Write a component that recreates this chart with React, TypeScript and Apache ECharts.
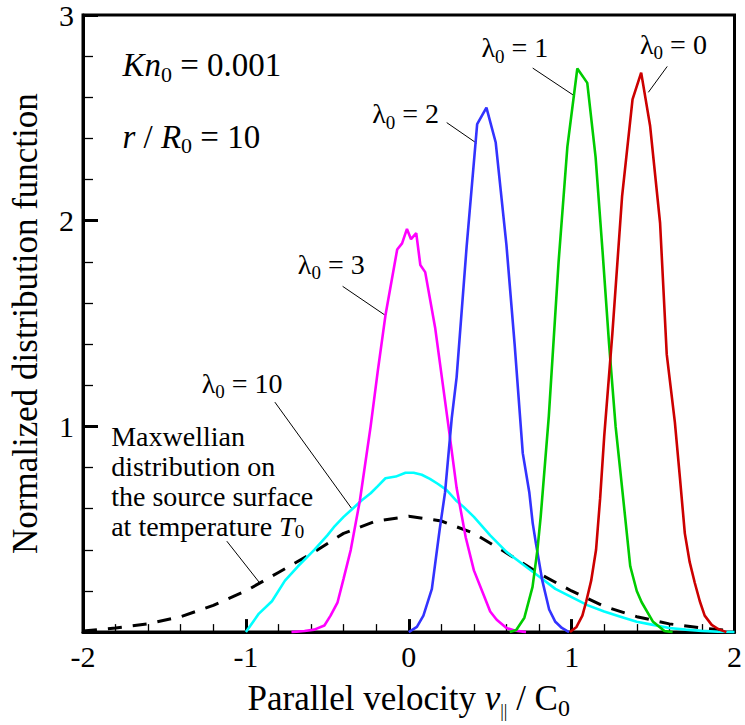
import React, { useEffect, useRef } from "react";
import * as echarts from "echarts";

const FONT = "Liberation Serif";

// axis ticks
const xTickValues = [-2, -1, 0, 1, 2];
const yTickLabels = ["", "1", "2", "3"];

// Normalized distribution function vs parallel velocity, per lambda_0
const lambda0 = [
  [0.99, 0], [1.03, 0.025], [1.066, 0.08], [1.09, 0.15], [1.12, 0.25], [1.15, 0.4],
  [1.175, 0.65], [1.2, 0.95], [1.25, 1.45], [1.31, 2.12], [1.374, 2.59], [1.427, 2.72],
  [1.482, 2.46], [1.543, 1.99], [1.584, 1.35], [1.634, 1.02], [1.665, 0.75], [1.695, 0.48],
  [1.725, 0.34], [1.756, 0.24], [1.787, 0.15], [1.817, 0.08], [1.86, 0.035], [1.9, 0.015], [1.95, 0],
];
const lambda1 = [
  [0.62, 0], [0.66, 0.01], [0.71, 0.07], [0.76, 0.22], [0.79, 0.4], [0.81, 0.56],
  [0.86, 1.05], [0.92, 1.8], [0.974, 2.36], [1.035, 2.74], [1.096, 2.67], [1.147, 2.31],
  [1.19, 1.85], [1.23, 1.4], [1.27, 1.0], [1.31, 0.7], [1.36, 0.32], [1.4, 0.2],
  [1.43, 0.145], [1.5, 0.05], [1.57, 0.005], [1.62, 0],
];
const lambda2 = [
  [0.0, 0], [0.05, 0.025], [0.09, 0.08], [0.142, 0.21], [0.19, 0.5], [0.223, 0.68],
  [0.264, 1.04], [0.294, 1.24], [0.355, 1.87], [0.42, 2.47], [0.477, 2.55], [0.534, 2.38],
  [0.6, 1.88], [0.65, 1.4], [0.7, 0.87], [0.74, 0.68], [0.761, 0.53], [0.781, 0.43],
  [0.82, 0.25], [0.862, 0.11], [0.9, 0.05], [0.94, 0.02], [0.984, 0],
];
const lambda3 = [
  [-0.72, 0], [-0.64, 0.005], [-0.58, 0.012], [-0.518, 0.032], [-0.48, 0.08], [-0.437, 0.145],
  [-0.4, 0.26], [-0.356, 0.4], [-0.3, 0.64], [-0.234, 1.0], [-0.19, 1.27], [-0.143, 1.54],
  [-0.071, 1.86], [-0.041, 1.89], [-0.011, 1.96], [0.014, 1.91], [0.046, 1.94], [0.071, 1.785],
  [0.101, 1.75], [0.162, 1.48], [0.244, 1.0], [0.294, 0.7], [0.35, 0.46], [0.4, 0.3],
  [0.46, 0.18], [0.5, 0.1], [0.54, 0.06], [0.6, 0.02], [0.65, 0.008], [0.72, 0],
];
const lambda10 = [
  [-1.0, 0], [-0.92, 0.09], [-0.84, 0.15], [-0.76, 0.25], [-0.68, 0.32], [-0.58, 0.4],
  [-0.5, 0.47], [-0.46, 0.51], [-0.4, 0.56], [-0.345, 0.6], [-0.29, 0.64], [-0.234, 0.675],
  [-0.19, 0.71], [-0.143, 0.748], [-0.08, 0.756], [-0.02, 0.775], [0.03, 0.775], [0.08, 0.765],
  [0.13, 0.745], [0.18, 0.72], [0.233, 0.69], [0.29, 0.64], [0.335, 0.61], [0.4, 0.56],
  [0.5, 0.47], [0.6, 0.39], [0.7, 0.33], [0.8, 0.27], [0.9, 0.21], [1.0, 0.17],
  [1.1, 0.13], [1.2, 0.1], [1.3, 0.075], [1.4, 0.05], [1.5, 0.035], [1.6, 0.02],
  [1.7, 0.012], [1.8, 0.006], [1.9, 0.002], [2.0, 0],
];
const maxwellian = [
  [-2.0, 0.005], [-1.8, 0.02], [-1.6, 0.04], [-1.4, 0.075], [-1.2, 0.13], [-1.0, 0.2],
  [-0.8, 0.29], [-0.6, 0.38], [-0.4, 0.48], [-0.2, 0.54], [0.0, 0.563], [0.2, 0.54],
  [0.4, 0.48], [0.6, 0.385], [0.8, 0.285], [1.0, 0.2], [1.2, 0.125], [1.4, 0.075],
  [1.6, 0.04], [1.8, 0.02], [2.0, 0.005],
];

// leader lines: [labelEnd, curvePoint] in data coordinates
const leaders = [
  [[0.761, 2.742], [1.021, 2.605]],
  [[1.587, 2.75], [1.471, 2.624]],
  [[0.233, 2.477], [0.416, 2.377]],
  [[-0.406, 1.681], [-0.146, 1.541]],
  [[-0.822, 1.118], [-0.345, 0.595]],
  [[-1.117, 0.442], [-0.914, 0.238]],
];

// annotation labels (rich text) anchored at data coordinates (left edge)
const labelTexts = [
  { text: "{i|Kn}{s|0}{n| = 0.001}", at: [-1.758, 2.755], size: 33, va: "middle" },
  { text: "{i|r}{n| / }{i|R}{s|0}{n| = 10}", at: [-1.758, 2.408], size: 33, va: "middle" },
  { text: "{n|λ}{s|0}{n| = 1}", at: [0.446, 2.84], size: 28, va: "middle" },
  { text: "{n|λ}{s|0}{n| = 0}", at: [1.42, 2.858], size: 28, va: "middle" },
  { text: "{n|λ}{s|0}{n| = 2}", at: [-0.224, 2.52], size: 28, va: "middle" },
  { text: "{n|λ}{s|0}{n| = 3}", at: [-0.681, 1.788], size: 28, va: "middle" },
  { text: "{n|λ}{s|0}{n| = 10}", at: [-1.271, 1.209], size: 28, va: "middle" },
  {
    text: "{m|Maxwellian}\n{m|distribution on}\n{m|the source surface}\n{m|at temperature }{mi|T}{ms|0}",
    at: [-1.827, 1.025], size: 28, va: "top",
  },
];

function richFor(size: number) {
  const big = size > 30;
  const lh = big ? 40 : 36;
  return {
    n: { fontFamily: FONT, fontSize: size, fill: "#000", lineHeight: lh, verticalAlign: "middle" },
    i: { fontFamily: FONT, fontSize: size, fontStyle: "italic", fill: "#000", lineHeight: lh, verticalAlign: "middle" },
    s: { fontFamily: FONT, fontSize: big ? 22 : 19, fill: "#000", lineHeight: big ? 18 : 20, verticalAlign: "bottom" },
    m: { fontFamily: FONT, fontSize: size, fill: "#000", lineHeight: 30, verticalAlign: "middle" },
    mi: { fontFamily: FONT, fontSize: size, fontStyle: "italic", fill: "#000", lineHeight: 30, verticalAlign: "middle" },
    ms: { fontFamily: FONT, fontSize: 19, fill: "#000", lineHeight: 6, verticalAlign: "bottom" },
  };
}

export default function App() {
  const ref = useRef<HTMLDivElement>(null);
  useEffect(() => {
    document.body.style.margin = "0";
    const chart = echarts.init(ref.current!, null, { renderer: "svg" });
    const curve = (name: string, data: number[][], color: string, extra: any = {}) => ({
      name,
      type: "line",
      data,
      symbol: "none",
      showSymbol: false,
      clip: true,
      lineStyle: { color, width: 2.6, ...extra },
      z: 3,
    });
    const option: any = {
      animation: false,
      backgroundColor: "#fff",
      textStyle: { fontFamily: FONT },
      grid: { left: 83, right: 5, top: 15, bottom: 88, show: true, borderColor: "#000", borderWidth: 3, backgroundColor: "transparent" },
      xAxis: {
        type: "value",
        min: -2,
        max: 2,
        interval: 1,
        axisLine: { show: true, onZero: false, lineStyle: { color: "#000", width: 3 } },
        axisTick: { show: true, inside: true, length: 13, lineStyle: { color: "#000", width: 3 } },
        minorTick: { show: true, splitNumber: 5, length: 8, lineStyle: { color: "#000", width: 1.3 } },
        splitLine: { show: false },
        minorSplitLine: { show: false },
        axisLabel: {
          fontFamily: FONT, fontSize: 30, color: "#000", margin: 9,
          formatter: (v: number) => (xTickValues.includes(v) ? String(v) : ""),
        },
        name: "Parallel velocity {i|v}{b|||} / C{s|0}",
        nameLocation: "middle",
        nameGap: 37,
        nameTextStyle: {
          fontFamily: FONT, fontSize: 35, color: "#000", lineHeight: 44,
          rich: {
            i: { fontFamily: FONT, fontSize: 35, fontStyle: "italic", color: "#000", lineHeight: 44 },
            b: { fontFamily: FONT, fontSize: 18, color: "#000", lineHeight: 30, verticalAlign: "bottom" },
            s: { fontFamily: FONT, fontSize: 24, color: "#000", lineHeight: 18, verticalAlign: "bottom" },
          },
        },
      },
      yAxis: {
        type: "value",
        min: 0,
        max: 3,
        interval: 1,
        axisLine: { show: true, onZero: false, lineStyle: { color: "#000", width: 3 } },
        axisTick: { show: true, inside: true, length: 15, lineStyle: { color: "#000", width: 3 } },
        minorTick: { show: true, splitNumber: 5, length: 10, lineStyle: { color: "#000", width: 1.3 } },
        splitLine: { show: false },
        minorSplitLine: { show: false },
        axisLabel: {
          fontFamily: FONT, fontSize: 30, color: "#000", margin: 9,
          formatter: (v: number) => yTickLabels[Math.round(v)] ?? "",
        },
        name: "Normalized distribution function",
        nameLocation: "middle",
        nameGap: 40,
        nameTextStyle: { fontFamily: FONT, fontSize: 35, color: "#000" },
      },
      series: [
        curve("Maxwellian", maxwellian, "#000", { type: [14, 11], width: 3 }),
        curve("λ0 = 10", lambda10, "#00ffff"),
        curve("λ0 = 3", lambda3, "#ff00ff"),
        curve("λ0 = 2", lambda2, "#3333ff"),
        curve("λ0 = 1", lambda1, "#00cc00"),
        curve("λ0 = 0", lambda0, "#cc0000"),
        ...leaders.map((l, k) => ({
          name: "leader" + k,
          type: "line",
          data: l,
          symbol: "none",
          showSymbol: false,
          silent: true,
          lineStyle: { color: "#000", width: 1 },
          z: 2,
        })),
      ],
    };
    chart.setOption(option);
    const graphic = labelTexts.map((t) => {
      const p = chart.convertToPixel({ gridIndex: 0 } as any, t.at) as number[];
      return {
        type: "text",
        x: p[0],
        y: p[1],
        z: 10,
        style: {
          text: t.text,
          rich: richFor(t.size),
          fontFamily: FONT,
          fontSize: t.size,
          fill: "#000",
          align: "left",
          verticalAlign: t.va,
        },
      };
    });
    chart.setOption({ graphic });
    return () => chart.dispose();
  }, []);
  return <div ref={ref} style={{ width: 745, height: 725 }} />;
}
